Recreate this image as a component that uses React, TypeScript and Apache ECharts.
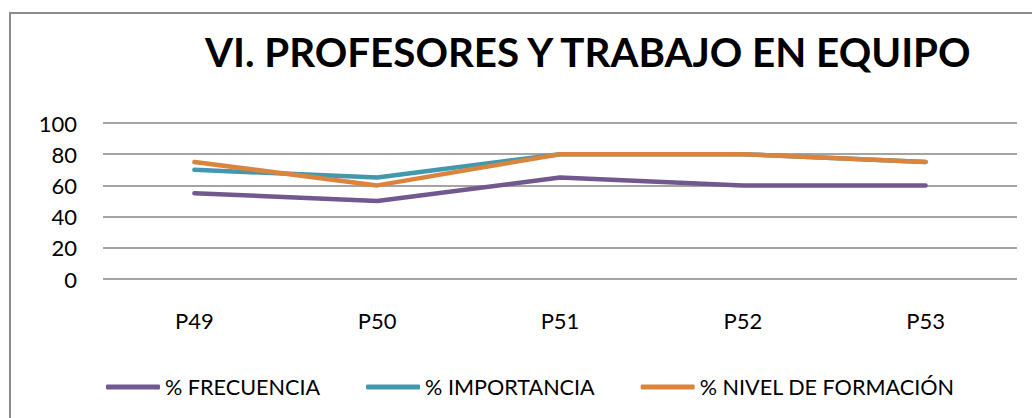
import React, { useEffect, useRef } from "react";
import * as echarts from "echarts";

const categories = ["P49", "P50", "P51", "P52", "P53"];
const frecuencia = [55, 50, 65, 60, 60];
const importancia = [70, 65, 80, 80, 75];
const nivelFormacion = [75, 60, 80, 80, 75];
const seriesNames = ["% FRECUENCIA", "% IMPORTANCIA", "% NIVEL DE FORMACIÓN"];
const colors = ["#71588F", "#4198AF", "#DB843D"];
const titleText = "VI. PROFESORES Y TRABAJO EN EQUIPO";

const FONT = "Lato, 'Open Sans', sans-serif";

export default function App() {
  const ref = useRef<HTMLDivElement>(null);
  useEffect(() => {
    if (!ref.current) return;
    const chart = echarts.init(ref.current, null, { renderer: "svg" });
    const values = [frecuencia, importancia, nivelFormacion];
    chart.setOption({
      animation: false,
      backgroundColor: "#ffffff",
      color: colors,
      graphic: [
        {
          type: "rect",
          shape: { x: 10, y: 13, width: 1100, height: 500 },
          style: { fill: "none", stroke: "#8c8c8c", lineWidth: 2 },
          silent: true,
          z: -1,
        },
      ],
      title: {
        text: titleText,
        left: 205,
        top: 31,
        padding: 0,
        textStyle: {
          fontFamily: FONT,
          fontWeight: "bold",
          fontSize: 40.3,
          color: "#000000",
        },
      },
      legend: {
        left: 106,
        top: 376,
        padding: 0,
        itemWidth: 54,
        itemHeight: 5,
        itemGap: 46,
        icon: "roundRect",
        data: seriesNames,
        textStyle: { fontFamily: FONT, fontSize: 21.6, color: "#000000" },
      },
      grid: { left: 103, right: 15, top: 123, bottom: 139 },
      xAxis: {
        type: "category",
        data: categories,
        boundaryGap: true,
        axisLine: { show: false },
        axisTick: { show: false },
        axisLabel: { fontFamily: FONT, fontSize: 22, color: "#000000", margin: 30 },
      },
      yAxis: {
        type: "value",
        min: 0,
        max: 100,
        interval: 20,
        axisLine: { show: false },
        axisTick: { show: false },
        axisLabel: { fontFamily: FONT, fontSize: 22, color: "#000000", margin: 26 },
        splitLine: { lineStyle: { color: "#868686", width: 1.5 } },
      },
      series: seriesNames.map((name, i) => ({
        name,
        type: "line",
        data: values[i],
        symbol: "none",
        lineStyle: { width: 4.5, color: colors[i], cap: "round", join: "round" },
        itemStyle: { color: colors[i] },
      })),
    });
    return () => chart.dispose();
  }, []);
  return (
    <div
      ref={ref}
      style={{ position: "fixed", left: 0, top: 0, width: 1032, height: 418 }}
    />
  );
}
